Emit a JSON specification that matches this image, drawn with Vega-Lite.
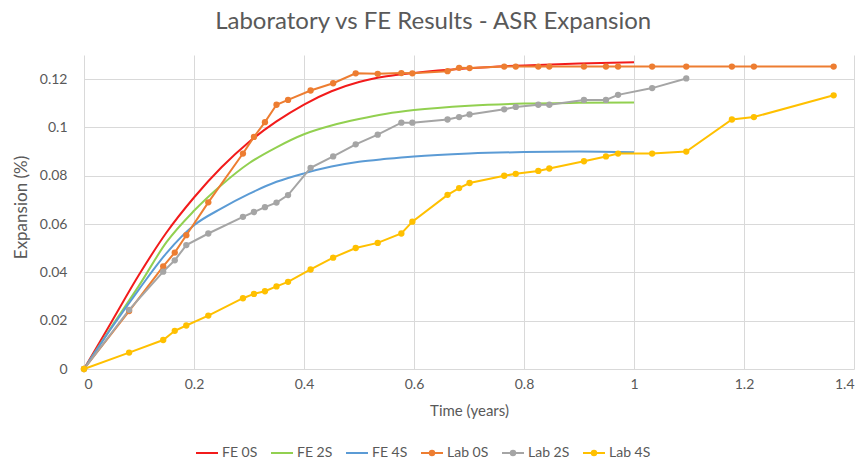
{
  "$schema": "https://vega.github.io/schema/vega-lite/v6.json",
  "width": 770,
  "height": 314,
  "autosize": {"type": "none"},
  "padding": {"left": 84, "top": 55, "right": 8, "bottom": 97},
  "background": "white",
  "title": {"text": "Laboratory vs FE Results - ASR Expansion", "font": "Lato", "fontSize": 24, "fontWeight": "normal", "color": "#595959", "anchor": "middle", "frame": "bounds", "offset": 21},
  "config": {
    "view": {"stroke": null},
    "font": "Lato",
    "axis": {"labelFont": "Lato", "labelFontSize": 14, "labelColor": "#595959", "titleFont": "Lato", "titleFontSize": 15, "titleFontWeight": "normal", "titleColor": "#595959", "gridColor": "#D9D9D9", "gridWidth": 1, "domain": false, "ticks": false},
    "legend": {"labelFont": "Lato", "labelFontSize": 14, "labelColor": "#595959"}
  },
  "data": {"values": [
    {"s": "FE 0S", "x": 0, "y": 0}, {"s": "FE 0S", "x": 0.05, "y": 0.0195}, {"s": "FE 0S", "x": 0.1, "y": 0.039}, {"s": "FE 0S", "x": 0.15, "y": 0.0565}, {"s": "FE 0S", "x": 0.2, "y": 0.071}, {"s": "FE 0S", "x": 0.25, "y": 0.0835}, {"s": "FE 0S", "x": 0.3, "y": 0.094}, {"s": "FE 0S", "x": 0.35, "y": 0.1025}, {"s": "FE 0S", "x": 0.4, "y": 0.1095}, {"s": "FE 0S", "x": 0.45, "y": 0.115}, {"s": "FE 0S", "x": 0.5, "y": 0.1188}, {"s": "FE 0S", "x": 0.55, "y": 0.1212}, {"s": "FE 0S", "x": 0.6, "y": 0.1226}, {"s": "FE 0S", "x": 0.7, "y": 0.1245}, {"s": "FE 0S", "x": 0.8, "y": 0.1257}, {"s": "FE 0S", "x": 0.9, "y": 0.1265}, {"s": "FE 0S", "x": 1.0, "y": 0.127},
    {"s": "FE 2S", "x": 0, "y": 0}, {"s": "FE 2S", "x": 0.05, "y": 0.0175}, {"s": "FE 2S", "x": 0.1, "y": 0.0345}, {"s": "FE 2S", "x": 0.15, "y": 0.0525}, {"s": "FE 2S", "x": 0.2, "y": 0.0655}, {"s": "FE 2S", "x": 0.25, "y": 0.0762}, {"s": "FE 2S", "x": 0.3, "y": 0.0852}, {"s": "FE 2S", "x": 0.35, "y": 0.0918}, {"s": "FE 2S", "x": 0.4, "y": 0.0972}, {"s": "FE 2S", "x": 0.45, "y": 0.1008}, {"s": "FE 2S", "x": 0.5, "y": 0.1035}, {"s": "FE 2S", "x": 0.55, "y": 0.1057}, {"s": "FE 2S", "x": 0.6, "y": 0.1072}, {"s": "FE 2S", "x": 0.7, "y": 0.109}, {"s": "FE 2S", "x": 0.8, "y": 0.1099}, {"s": "FE 2S", "x": 0.9, "y": 0.1102}, {"s": "FE 2S", "x": 1.0, "y": 0.1103},
    {"s": "FE 4S", "x": 0, "y": 0}, {"s": "FE 4S", "x": 0.05, "y": 0.017}, {"s": "FE 4S", "x": 0.1, "y": 0.033}, {"s": "FE 4S", "x": 0.15, "y": 0.048}, {"s": "FE 4S", "x": 0.2, "y": 0.0595}, {"s": "FE 4S", "x": 0.25, "y": 0.0665}, {"s": "FE 4S", "x": 0.3, "y": 0.0725}, {"s": "FE 4S", "x": 0.35, "y": 0.0775}, {"s": "FE 4S", "x": 0.4, "y": 0.081}, {"s": "FE 4S", "x": 0.45, "y": 0.0838}, {"s": "FE 4S", "x": 0.5, "y": 0.0858}, {"s": "FE 4S", "x": 0.55, "y": 0.087}, {"s": "FE 4S", "x": 0.6, "y": 0.088}, {"s": "FE 4S", "x": 0.7, "y": 0.0892}, {"s": "FE 4S", "x": 0.8, "y": 0.0898}, {"s": "FE 4S", "x": 0.9, "y": 0.09}, {"s": "FE 4S", "x": 1.0, "y": 0.0897},
    {"s": "Lab 0S", "x": 0, "y": 0}, {"s": "Lab 0S", "x": 0.082, "y": 0.024}, {"s": "Lab 0S", "x": 0.144, "y": 0.0425}, {"s": "Lab 0S", "x": 0.165, "y": 0.0482}, {"s": "Lab 0S", "x": 0.186, "y": 0.0554}, {"s": "Lab 0S", "x": 0.226, "y": 0.069}, {"s": "Lab 0S", "x": 0.289, "y": 0.0892}, {"s": "Lab 0S", "x": 0.309, "y": 0.0961}, {"s": "Lab 0S", "x": 0.329, "y": 0.1022}, {"s": "Lab 0S", "x": 0.35, "y": 0.1094}, {"s": "Lab 0S", "x": 0.371, "y": 0.1114}, {"s": "Lab 0S", "x": 0.412, "y": 0.1153}, {"s": "Lab 0S", "x": 0.453, "y": 0.1183}, {"s": "Lab 0S", "x": 0.494, "y": 0.1224}, {"s": "Lab 0S", "x": 0.534, "y": 0.1222}, {"s": "Lab 0S", "x": 0.577, "y": 0.1225}, {"s": "Lab 0S", "x": 0.597, "y": 0.1224}, {"s": "Lab 0S", "x": 0.661, "y": 0.1233}, {"s": "Lab 0S", "x": 0.682, "y": 0.1247}, {"s": "Lab 0S", "x": 0.701, "y": 0.1246}, {"s": "Lab 0S", "x": 0.764, "y": 0.1252}, {"s": "Lab 0S", "x": 0.785, "y": 0.1252}, {"s": "Lab 0S", "x": 0.826, "y": 0.1252}, {"s": "Lab 0S", "x": 0.846, "y": 0.1252}, {"s": "Lab 0S", "x": 0.909, "y": 0.1252}, {"s": "Lab 0S", "x": 0.949, "y": 0.1252}, {"s": "Lab 0S", "x": 0.971, "y": 0.1252}, {"s": "Lab 0S", "x": 1.033, "y": 0.1252}, {"s": "Lab 0S", "x": 1.095, "y": 0.1252}, {"s": "Lab 0S", "x": 1.178, "y": 0.1252}, {"s": "Lab 0S", "x": 1.218, "y": 0.1252}, {"s": "Lab 0S", "x": 1.363, "y": 0.1252},
    {"s": "Lab 2S", "x": 0, "y": 0}, {"s": "Lab 2S", "x": 0.082, "y": 0.0245}, {"s": "Lab 2S", "x": 0.144, "y": 0.0403}, {"s": "Lab 2S", "x": 0.165, "y": 0.045}, {"s": "Lab 2S", "x": 0.186, "y": 0.0513}, {"s": "Lab 2S", "x": 0.226, "y": 0.0561}, {"s": "Lab 2S", "x": 0.289, "y": 0.063}, {"s": "Lab 2S", "x": 0.309, "y": 0.065}, {"s": "Lab 2S", "x": 0.329, "y": 0.067}, {"s": "Lab 2S", "x": 0.35, "y": 0.0689}, {"s": "Lab 2S", "x": 0.371, "y": 0.072}, {"s": "Lab 2S", "x": 0.412, "y": 0.0833}, {"s": "Lab 2S", "x": 0.453, "y": 0.088}, {"s": "Lab 2S", "x": 0.494, "y": 0.093}, {"s": "Lab 2S", "x": 0.534, "y": 0.097}, {"s": "Lab 2S", "x": 0.577, "y": 0.102}, {"s": "Lab 2S", "x": 0.597, "y": 0.102}, {"s": "Lab 2S", "x": 0.661, "y": 0.1033}, {"s": "Lab 2S", "x": 0.682, "y": 0.1043}, {"s": "Lab 2S", "x": 0.701, "y": 0.1054}, {"s": "Lab 2S", "x": 0.764, "y": 0.1075}, {"s": "Lab 2S", "x": 0.785, "y": 0.1085}, {"s": "Lab 2S", "x": 0.826, "y": 0.1094}, {"s": "Lab 2S", "x": 0.846, "y": 0.1094}, {"s": "Lab 2S", "x": 0.909, "y": 0.1114}, {"s": "Lab 2S", "x": 0.949, "y": 0.1114}, {"s": "Lab 2S", "x": 0.971, "y": 0.1135}, {"s": "Lab 2S", "x": 1.033, "y": 0.1163}, {"s": "Lab 2S", "x": 1.095, "y": 0.1203},
    {"s": "Lab 4S", "x": 0, "y": 0}, {"s": "Lab 4S", "x": 0.082, "y": 0.0068}, {"s": "Lab 4S", "x": 0.144, "y": 0.012}, {"s": "Lab 4S", "x": 0.165, "y": 0.0158}, {"s": "Lab 4S", "x": 0.186, "y": 0.018}, {"s": "Lab 4S", "x": 0.226, "y": 0.0221}, {"s": "Lab 4S", "x": 0.289, "y": 0.0293}, {"s": "Lab 4S", "x": 0.309, "y": 0.0311}, {"s": "Lab 4S", "x": 0.329, "y": 0.0322}, {"s": "Lab 4S", "x": 0.35, "y": 0.0342}, {"s": "Lab 4S", "x": 0.371, "y": 0.0361}, {"s": "Lab 4S", "x": 0.412, "y": 0.0412}, {"s": "Lab 4S", "x": 0.453, "y": 0.0461}, {"s": "Lab 4S", "x": 0.494, "y": 0.0501}, {"s": "Lab 4S", "x": 0.534, "y": 0.0522}, {"s": "Lab 4S", "x": 0.577, "y": 0.0561}, {"s": "Lab 4S", "x": 0.597, "y": 0.061}, {"s": "Lab 4S", "x": 0.661, "y": 0.0721}, {"s": "Lab 4S", "x": 0.682, "y": 0.0749}, {"s": "Lab 4S", "x": 0.701, "y": 0.077}, {"s": "Lab 4S", "x": 0.764, "y": 0.08}, {"s": "Lab 4S", "x": 0.785, "y": 0.0808}, {"s": "Lab 4S", "x": 0.826, "y": 0.082}, {"s": "Lab 4S", "x": 0.846, "y": 0.083}, {"s": "Lab 4S", "x": 0.909, "y": 0.086}, {"s": "Lab 4S", "x": 0.949, "y": 0.088}, {"s": "Lab 4S", "x": 0.971, "y": 0.0892}, {"s": "Lab 4S", "x": 1.033, "y": 0.0892}, {"s": "Lab 4S", "x": 1.095, "y": 0.09}, {"s": "Lab 4S", "x": 1.178, "y": 0.1033}, {"s": "Lab 4S", "x": 1.218, "y": 0.1043}, {"s": "Lab 4S", "x": 1.363, "y": 0.1133}
  ]},
  "encoding": {
    "x": {"field": "x", "type": "quantitative", "scale": {"domain": [0, 1.4], "nice": false}, "axis": {"title": "Time (years)", "values": [0, 0.2, 0.4, 0.6, 0.8, 1, 1.2, 1.4], "format": "~g", "labelPadding": 8, "titlePadding": 12}},
    "y": {"field": "y", "type": "quantitative", "scale": {"domain": [0, 0.13], "nice": false}, "axis": {"title": "Expansion (%)", "titleFontSize": 17, "titleY": 152, "values": [0, 0.02, 0.04, 0.06, 0.08, 0.1, 0.12], "format": "~g", "labelPadding": 17, "titlePadding": 9}},
    "color": {"field": "s", "type": "nominal", "scale": {"domain": ["FE 0S", "FE 2S", "FE 4S", "Lab 0S", "Lab 2S", "Lab 4S"], "range": ["#F21B1B", "#92D050", "#5B9BD5", "#ED7D31", "#A5A5A5", "#FFC000"]},
      "legend": {"title": null, "orient": "none", "legendX": 111, "legendY": 386, "direction": "horizontal", "symbolSize": 484, "symbolStrokeWidth": 2, "labelOffset": 3, "columnPadding": 9,
        "encode": {"symbols": {"update": {
          "shape": {"signal": "indexof(datum.value, 'Lab') == 0 ? 'M-1,0H1M-0.2,0A0.2,0.2,0,1,0,0.2,0A0.2,0.2,0,1,0,-0.2,0' : 'M-1,0H1'"},
          "fill": {"signal": "scale('color', datum.value)"},
          "stroke": {"signal": "scale('color', datum.value)"},
          "opacity": {"value": 1}, "fillOpacity": {"value": 1}, "strokeWidth": {"value": 2}
        }}}}}
  },
  "layer": [
    {"transform": [{"filter": "indexof(datum.s, 'FE') == 0"}], "mark": {"type": "line", "interpolate": "monotone", "strokeWidth": 2}},
    {"transform": [{"filter": "indexof(datum.s, 'Lab') == 0"}], "mark": {"type": "line", "strokeWidth": 2}},
    {"transform": [{"filter": "indexof(datum.s, 'Lab') == 0"}], "mark": {"type": "point", "filled": true, "size": 40, "opacity": 1}}
  ]
}
